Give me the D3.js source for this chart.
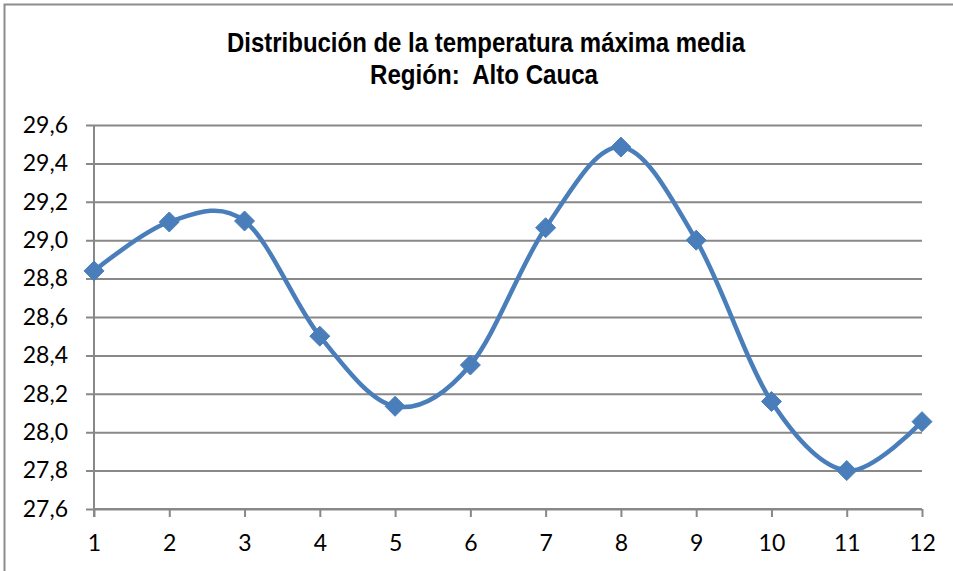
<!DOCTYPE html>
<html>
<head>
<meta charset="utf-8">
<script src="https://cdn.jsdelivr.net/npm/d3@7"></script>
<style>
  body { margin: 0; background: #fff; }
  svg text { fill: #000; }
</style>
</head>
<body>
<script>
// chart data
var meses = [1, 2, 3, 4, 5, 6, 7, 8, 9, 10, 11, 12];
var tempMax = [28.84, 29.095, 29.10, 28.50, 28.135, 28.35, 29.065, 29.485, 29.0, 28.16, 27.80, 28.055];
var yTicks = [27.6, 27.8, 28.0, 28.2, 28.4, 28.6, 28.8, 29.0, 29.2, 29.4, 29.6];
var titulo = ["Distribución de la temperatura máxima media", "Región:  Alto Cauca"];
var tituloAncho = [518, 228];

var W = 953, H = 571;
var margin = {top: 125, right: 31, bottom: 62, left: 94};
var w = W - margin.left - margin.right,
    h = H - margin.top - margin.bottom;

var svg = d3.select('body').append('svg')
  .attr('width', W)
  .attr('height', H);

// outer frame (only top and left edges visible)
svg.append('path')
  .attr('d', 'M4.5,' + H + 'V4.5H' + W)
  .attr('fill', 'none')
  .attr('stroke', '#8c8c8c')
  .attr('stroke-width', 2);

// title (narrow bold look)
svg.append('g')
  .selectAll('text')
  .data(titulo)
  .enter()
  .append('text')
  .attr('x', (d, i) => i ? 484 : 486)
  .attr('y', (d, i) => 52 + i * 32)
  .attr('text-anchor', 'middle')
  .attr('textLength', (d, i) => tituloAncho[i])
  .attr('lengthAdjust', 'spacingAndGlyphs')
  .style('white-space', 'pre')
  .style('font-family', '"Liberation Sans", Arial, sans-serif')
  .style('font-weight', 'bold')
  .style('font-size', '27px')
  .text(d => d);

var x = d3.scaleLinear().domain([1, 12]).range([0, w]);
var y = d3.scaleLinear().domain([27.6, 29.6]).range([h, 0]);

var g = svg.append('g')
  .attr('transform', 'translate(' + margin.left + ',' + margin.top + ')');

// y axis with gridlines
var yAxis = d3.axisLeft(y)
  .tickValues(yTicks)
  .tickSize(-w)
  .tickPadding(26)
  .tickFormat(d => d3.format('.1f')(d).replace('.', ','));

var ya = g.append('g').call(yAxis);
ya.select('.domain').remove();
ya.selectAll('.tick line')
  .attr('x1', -8)
  .attr('stroke', '#888')
  .attr('stroke-width', 2);
ya.selectAll('.tick text')
  .style('font-family', 'Lato, "Open Sans", sans-serif')
  .style('font-size', '23px');

// x axis
var xAxis = d3.axisBottom(x)
  .tickValues(meses)
  .tickSize(8)
  .tickPadding(18);

var xa = g.append('g')
  .attr('transform', 'translate(0,' + h + ')')
  .call(xAxis);
xa.select('.domain')
  .attr('d', 'M0,0H' + w)
  .attr('stroke', '#888')
  .attr('stroke-width', 2);
xa.selectAll('.tick line').attr('stroke', '#888').attr('stroke-width', 2);
xa.selectAll('.tick text')
  .style('font-family', 'Lato, "Open Sans", sans-serif')
  .style('font-size', '23px');

// vertical axis line
g.append('line')
  .attr('x1', 0).attr('x2', 0)
  .attr('y1', 0).attr('y2', h + 8)
  .attr('stroke', '#888')
  .attr('stroke-width', 2);

var puntos = meses.map((m, i) => ({mes: m, t: tempMax[i]}));

// smoothed line
var linea = d3.line()
  .x(d => x(d.mes))
  .y(d => y(d.t))
  .curve(d3.curveCardinal.tension(0));

g.append('path')
  .datum(puntos)
  .attr('d', linea)
  .attr('fill', 'none')
  .attr('stroke', '#4a7ebb')
  .attr('stroke-width', 4.5)
  .attr('stroke-linecap', 'round');

// diamond markers
g.selectAll('.marker')
  .data(puntos)
  .enter()
  .append('path')
  .attr('class', 'marker')
  .attr('transform', d => 'translate(' + x(d.mes) + ',' + y(d.t) + ')')
  .attr('d', 'M0,-10L10,0L0,10L-10,0Z')
  .attr('fill', '#4a7ebb')
  .attr('stroke', '#4a7ebb')
  .attr('stroke-width', 1);
</script>
</body>
</html>
